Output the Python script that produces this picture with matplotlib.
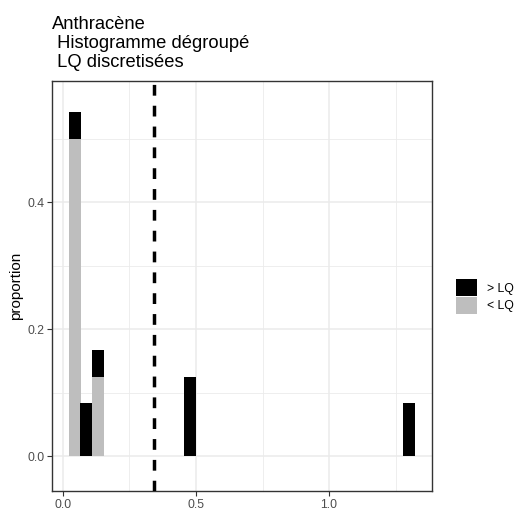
import numpy as np
import matplotlib.pyplot as plt
from matplotlib.patches import Patch
from matplotlib.ticker import MultipleLocator

plt.rcParams['font.family'] = ['Liberation Sans', 'DejaVu Sans']

# histogram bins (centres) and proportions, split by quantification status
bin_centres = [0.0445, 0.087, 0.132, 0.478, 1.302]
bin_width = 0.0445
prop_below = [12 / 24, 0.0, 3 / 24, 0.0, 0.0]   # < LQ
prop_above = [1 / 24, 2 / 24, 1 / 24, 3 / 24, 2 / 24]  # > LQ
lq_value = 0.342

title = "Anthracène\n Histogramme dégroupé\n LQ discretisées"

fig = plt.figure(figsize=(5.19, 5.09), dpi=100)
ax = fig.add_axes([0.1002, 0.0354, 0.7322, 0.8046])

ax.bar(bin_centres, prop_below, width=bin_width, color='#BEBEBE', linewidth=0, zorder=2)
ax.bar(bin_centres, prop_above, width=bin_width, bottom=prop_below,
       color='black', linewidth=0, zorder=2)
ax.axvline(lq_value, color='black', linestyle=(0, (3.1, 2.9)), linewidth=2.5, zorder=3)

ax.set_xlim(-0.041, 1.387)
ax.set_ylim(-0.055, 0.590)
ax.xaxis.set_major_locator(MultipleLocator(0.5))
ax.xaxis.set_minor_locator(MultipleLocator(0.25))
ax.yaxis.set_major_locator(MultipleLocator(0.2))
ax.yaxis.set_minor_locator(MultipleLocator(0.1))
ax.grid(which='major', color='#EBEBEB', linewidth=1.1, zorder=0)
ax.grid(which='minor', color='#EBEBEB', linewidth=0.6, zorder=0)
ax.set_axisbelow(True)
ax.tick_params(which='minor', length=0)
ax.tick_params(which='major', length=3.5, color='#333333', labelsize=8.8,
               labelcolor='#4D4D4D', pad=2)
ax.xaxis.set_major_formatter(plt.FuncFormatter(lambda v, p: f"{v:.1f}"))
ax.yaxis.set_major_formatter(plt.FuncFormatter(lambda v, p: f"{v:.1f}"))
for s in ax.spines.values():
    s.set_color('#333333')
    s.set_linewidth(1.0)

ax.set_ylabel('proportion', fontsize=11, labelpad=3)
fig.text(0.1002, 0.969, title, fontsize=13.2, va='top', ha='left', linespacing=1.18)

handles = [Patch(facecolor='black', edgecolor='none', label='> LQ'),
           Patch(facecolor='#BEBEBE', edgecolor='none', label='< LQ')]
fig.legend(handles=handles, loc='center left', bbox_to_anchor=(0.8786, 0.4175),
           frameon=False, fontsize=8.8, handlelength=1.72, handleheight=1.72,
           handletextpad=0.82, labelspacing=0.08, borderpad=0, borderaxespad=0)

fig.savefig('out.png', dpi=100)
